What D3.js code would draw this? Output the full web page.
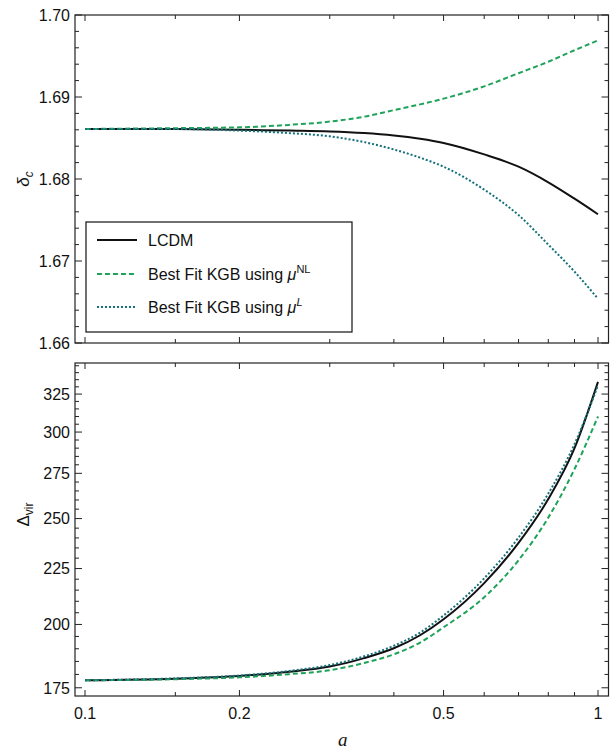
<!DOCTYPE html>
<html>
<head>
<meta charset="utf-8">
<script src="https://cdn.jsdelivr.net/npm/d3@7"></script>
<style>
  body { margin: 0; background: #fff; }
  svg text { font-family: "Liberation Sans", Arial, sans-serif; fill: #111; }
</style>
</head>
<body>
<div id="chart"></div>
<script>
// scale factor a
const aValues = [0.1, 0.15, 0.2, 0.25, 0.3, 0.35, 0.4, 0.45, 0.5, 0.6, 0.7, 0.8, 0.9, 1.0];

// delta_c
const deltaLCDM = [1.6861, 1.6861, 1.6860, 1.6859, 1.6858, 1.6856, 1.6853, 1.6849, 1.6844, 1.6830, 1.6815, 1.6796, 1.6776, 1.6757];
const deltaNL   = [1.6861, 1.6862, 1.6863, 1.6866, 1.6870, 1.6876, 1.6884, 1.6891, 1.6898, 1.6913, 1.6929, 1.6943, 1.6957, 1.6969];
const deltaL    = [1.6861, 1.6861, 1.6859, 1.6856, 1.6852, 1.6845, 1.6836, 1.6826, 1.6815, 1.6787, 1.6756, 1.6720, 1.6687, 1.6654];

// Delta_vir
const virLCDM = [177.8, 178.4, 179.4, 181.0, 183.0, 186.3, 190.2, 195.5, 202.2, 218.2, 237.5, 260.5, 290.0, 333.5];
const virNL   = [177.8, 178.2, 178.9, 180.1, 181.6, 184.4, 187.8, 192.5, 198.8, 211.8, 229.0, 250.5, 277.5, 310.0];
const virL    = [177.8, 178.5, 179.6, 181.3, 183.6, 187.0, 191.2, 196.6, 203.8, 220.4, 240.2, 263.5, 292.5, 331.0];

const xMajor = [0.1, 0.2, 0.5, 1];
const xMinor = [0.15, 0.3, 0.4, 0.6, 0.7, 0.8, 0.9];
const topMajor = [1.66, 1.67, 1.68, 1.69, 1.70];
const botMajor = [175, 200, 225, 250, 275, 300, 325];

const series = [
  { name: "LCDM", color: "#111111", dash: null, top: deltaLCDM, bot: virLCDM },
  { name: "NL", color: "#1fa35a", dash: "5,3", top: deltaNL, bot: virNL },
  { name: "L", color: "#14707a", dash: "2,2", top: deltaL, bot: virL }
];

const width = 610, height = 752;
const frame = { left: 75, right: 608.5 };
const topPanel = { top: 15, bottom: 343 };
const botPanel = { top: 363, bottom: 696 };

const svg = d3.select("#chart").append("svg")
  .attr("width", width)
  .attr("height", height);

const x = d3.scaleLog().domain([0.1, 1]).range([85, 598]);
const yTop = d3.scaleLinear().domain([1.66, 1.70]).range([topPanel.bottom, topPanel.top]);
const yBot = d3.scaleLog().domain([172, 347]).range([botPanel.bottom, botPanel.top]);

const topMinor = d3.range(1.660, 1.7001, 0.002).filter(v => Math.abs(Math.round(v * 100) - v * 100) > 1e-6);
const botMinor = d3.range(175, 346, 5).filter(v => v % 25 !== 0);

function drawPanel(panel, y, yMajor, yMinor, fmt, key, showX) {
  const g = svg.append("g");

  // frame
  g.append("rect")
    .attr("x", frame.left).attr("y", panel.top)
    .attr("width", frame.right - frame.left).attr("height", panel.bottom - panel.top)
    .attr("fill", "none").attr("stroke", "#222").attr("stroke-width", 1.2);

  // y ticks left and right
  const yt = g.append("g").attr("stroke", "#222").attr("stroke-width", 1);
  yMajor.forEach(v => {
    yt.append("line").attr("x1", frame.left).attr("x2", frame.left + 7).attr("y1", y(v)).attr("y2", y(v));
    yt.append("line").attr("x1", frame.right).attr("x2", frame.right - 7).attr("y1", y(v)).attr("y2", y(v));
  });
  yMinor.forEach(v => {
    yt.append("line").attr("x1", frame.left).attr("x2", frame.left + 4).attr("y1", y(v)).attr("y2", y(v));
    yt.append("line").attr("x1", frame.right).attr("x2", frame.right - 4).attr("y1", y(v)).attr("y2", y(v));
  });
  g.selectAll("text.ylab").data(yMajor).join("text")
    .attr("class", "ylab")
    .attr("x", frame.left - 5)
    .attr("y", d => y(d))
    .attr("dy", "0.36em")
    .attr("text-anchor", "end")
    .attr("font-size", 16)
    .text(fmt);

  // x ticks top and bottom
  const xt = g.append("g").attr("stroke", "#222").attr("stroke-width", 1);
  xMajor.forEach(v => {
    xt.append("line").attr("x1", x(v)).attr("x2", x(v)).attr("y1", panel.bottom).attr("y2", panel.bottom - 6);
    xt.append("line").attr("x1", x(v)).attr("x2", x(v)).attr("y1", panel.top).attr("y2", panel.top + 6);
  });
  xMinor.forEach(v => {
    xt.append("line").attr("x1", x(v)).attr("x2", x(v)).attr("y1", panel.bottom).attr("y2", panel.bottom - 4);
    xt.append("line").attr("x1", x(v)).attr("x2", x(v)).attr("y1", panel.top).attr("y2", panel.top + 4);
  });
  if (showX) {
    g.selectAll("text.xlab").data(xMajor).join("text")
      .attr("class", "xlab")
      .attr("x", d => x(d))
      .attr("y", panel.bottom + 23)
      .attr("text-anchor", "middle")
      .attr("font-size", 16)
      .text(d => d3.format("")(d));
  }

  // curves
  const line = d3.line()
    .x((d, i) => x(aValues[i]))
    .y(d => y(d))
    .curve(d3.curveMonotoneX);
  series.forEach(s => {
    g.append("path")
      .attr("d", line(s[key]))
      .attr("fill", "none")
      .attr("stroke", s.color)
      .attr("stroke-width", 2)
      .attr("stroke-dasharray", s.dash);
  });
}

drawPanel(topPanel, yTop, topMajor, topMinor, d => d3.format(".2f")(d), "top", false);
drawPanel(botPanel, yBot, botMajor, botMinor, d => d, "bot", true);

// axis titles
const t1 = svg.append("text")
  .attr("transform", `translate(29, ${yTop(1.68)}) rotate(-90)`)
  .attr("text-anchor", "middle")
  .attr("font-size", 17);
t1.append("tspan").attr("font-style", "italic").text("δ");
t1.append("tspan").attr("font-style", "italic").attr("font-size", 12).attr("dy", 4).text("c");

const t2 = svg.append("text")
  .attr("transform", `translate(29, ${yBot(250) - 4}) rotate(-90)`)
  .attr("text-anchor", "middle")
  .attr("font-size", 17);
t2.append("tspan").text("Δ");
t2.append("tspan").attr("font-size", 12).attr("dy", 4).text("vir");

svg.append("text")
  .attr("x", (frame.left + frame.right) / 2 + 1)
  .attr("y", 746)
  .attr("text-anchor", "middle")
  .attr("font-size", 19)
  .attr("font-style", "italic")
  .style("font-family", "'Liberation Serif', 'DejaVu Serif', serif")
  .text("a");

// legend
const legend = svg.append("g");
legend.append("rect")
  .attr("x", 86).attr("y", 222).attr("width", 266).attr("height", 110)
  .attr("fill", "#fff").attr("stroke", "#111").attr("stroke-width", 1.2);
const rows = [240, 274, 307];
series.forEach((s, i) => {
  legend.append("line")
    .attr("x1", 97).attr("x2", 137).attr("y1", rows[i]).attr("y2", rows[i])
    .attr("stroke", s.color).attr("stroke-width", 2)
    .attr("stroke-dasharray", s.dash);
  const t = legend.append("text")
    .attr("x", 148).attr("y", rows[i]).attr("dy", "0.36em")
    .attr("font-size", 16);
  if (s.name === "LCDM") {
    t.text("LCDM");
  } else {
    t.append("tspan").text("Best Fit KGB using ");
    t.append("tspan").attr("font-style", "italic").text("μ");
    t.append("tspan").attr("font-size", 11).attr("dy", -7)
      .attr("font-style", s.name === "L" ? "italic" : "normal").text(s.name);
  }
});
</script>
</body>
</html>
